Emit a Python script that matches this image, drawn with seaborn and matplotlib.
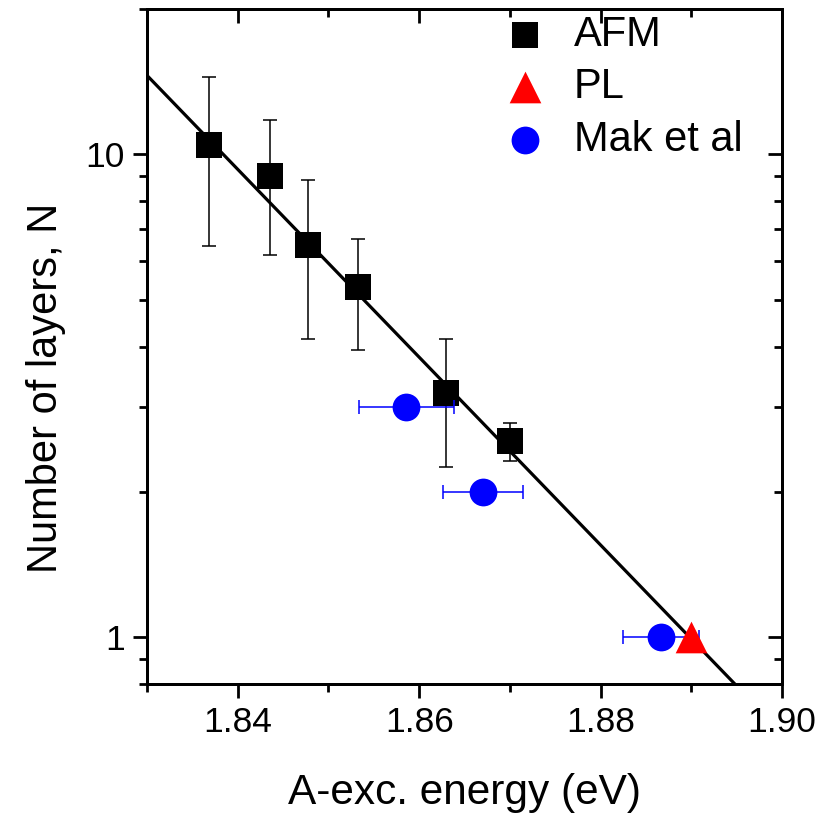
import numpy as np
import pandas as pd
import matplotlib
matplotlib.use("Agg")
import matplotlib.pyplot as plt
import seaborn as sns
from matplotlib.ticker import MultipleLocator, FormatStrFormatter, FixedLocator, FuncFormatter, NullFormatter

# ---- data ----
afm_energy = [1.8368, 1.8436, 1.8478, 1.8533, 1.8630, 1.8700]
afm_layers = [10.45, 9.0, 6.5, 5.3, 3.2, 2.55]
afm_yerr = [4.0, 2.8, 2.35, 1.37, 0.95, 0.23]

pl_energy = [1.8900]
pl_layers = [1.0]

mak_energy = [1.8586, 1.8670, 1.8867]
mak_layers = [3.0, 2.0, 1.0]
mak_xerr = [0.0052, 0.0044, 0.0042]

# fitted line: log10(N) = fit_a + fit_b * E
fit_a = 36.757
fit_b = -19.45
fit_range = [1.825, 1.905]

x_ticks_major = [1.84, 1.86, 1.88, 1.90]
y_ticks_major = [1, 10]
y_ticks_minor = [0.8, 0.9, 2, 3, 4, 5, 6, 7, 8, 9, 20]

sns.set_style("ticks")
plt.rcParams["font.family"] = ["Liberation Sans", "DejaVu Sans"]
plt.rcParams.update({
    "text.color": "black",
    "axes.labelcolor": "black",
    "xtick.color": "black",
    "ytick.color": "black",
    "axes.edgecolor": "black",
})

fig = plt.figure(figsize=(8.27, 8.16), dpi=100)
ax = fig.add_axes([147 / 827, 1 - 684 / 816, 635 / 827, 675 / 816])

fit_x = np.linspace(fit_range[0], fit_range[1], 50)
fit_df = pd.DataFrame({"E": fit_x, "N": 10 ** (fit_a + fit_b * fit_x)})
sns.lineplot(data=fit_df, x="E", y="N", ax=ax, color="black", lw=2.3, zorder=2)

ax.errorbar(afm_energy, afm_layers, yerr=afm_yerr, fmt="none", ecolor="black",
            elinewidth=1.1, capsize=4.7, capthick=1.1, zorder=3)
ax.errorbar(mak_energy, mak_layers, xerr=mak_xerr, fmt="none", ecolor="blue",
            elinewidth=1.1, capsize=4.7, capthick=1.1, zorder=5)

afm_df = pd.DataFrame({"E": afm_energy, "N": afm_layers})
pl_df = pd.DataFrame({"E": pl_energy, "N": pl_layers})
mak_df = pd.DataFrame({"E": mak_energy, "N": mak_layers})

sns.scatterplot(data=afm_df, x="E", y="N", ax=ax, marker="s", color="black", s=330,
                linewidth=0, label="AFM", zorder=4)
sns.scatterplot(data=pl_df, x="E", y="N", ax=ax, marker="^", color="red", s=520,
                linewidth=0, label="PL", zorder=7)
sns.scatterplot(data=mak_df, x="E", y="N", ax=ax, marker="o", color="blue", s=400,
                linewidth=0, label="Mak et al", zorder=6)

ax.set_yscale("log")
ax.set_xlim(1.83, 1.90)
ax.set_ylim(0.8, 20)

ax.xaxis.set_major_locator(FixedLocator(x_ticks_major))
ax.xaxis.set_minor_locator(MultipleLocator(0.01))
ax.xaxis.set_major_formatter(FormatStrFormatter("%.2f"))
ax.yaxis.set_major_locator(FixedLocator(y_ticks_major))
ax.yaxis.set_minor_locator(FixedLocator(y_ticks_minor))
ax.yaxis.set_major_formatter(FuncFormatter(lambda v, p: f"{v:g}"))
ax.yaxis.set_minor_formatter(NullFormatter())

for sp in ax.spines.values():
    sp.set_linewidth(2.0)
    sp.set_color("black")

ax.tick_params(axis="both", which="major", direction="out", length=10, width=2,
               labelsize=25.5, pad=6, colors="black")
ax.tick_params(axis="both", which="minor", direction="out", length=5.5, width=2)
ax.tick_params(top=False, right=False)

ax.set_xlabel("A-exc. energy (eV)", fontsize=30.5, labelpad=24, color="black")
ax.set_ylabel("Number of layers, N", fontsize=30, color="black")
ax.yaxis.set_label_coords(-0.128, 0.4385)

# inward ticks on top and right
axr = ax.twinx()
axr.set_yscale("log")
axr.set_ylim(ax.get_ylim())
axr.yaxis.set_major_locator(FixedLocator(y_ticks_major))
axr.yaxis.set_minor_locator(FixedLocator(y_ticks_minor))
axr.yaxis.set_major_formatter(NullFormatter())
axr.yaxis.set_minor_formatter(NullFormatter())
axr.tick_params(axis="y", which="major", direction="in", length=10, width=2)
axr.tick_params(axis="y", which="minor", direction="in", length=5.5, width=2)
axr.set_ylabel("")

axt = ax.twiny()
axt.set_xlim(ax.get_xlim())
axt.xaxis.set_major_locator(FixedLocator(x_ticks_major))
axt.xaxis.set_minor_locator(MultipleLocator(0.01))
axt.xaxis.set_major_formatter(NullFormatter())
axt.tick_params(axis="x", which="major", direction="in", length=10, width=2)
axt.tick_params(axis="x", which="minor", direction="in", length=5.5, width=2)
for a in (axr, axt):
    for sp in a.spines.values():
        sp.set_linewidth(2.0)
        sp.set_color("black")

leg = ax.legend(loc="upper left", bbox_to_anchor=(0.50, 1.038), frameon=False,
                fontsize=30, handletextpad=0.47, labelspacing=0.30,
                borderpad=0.25, handlelength=1.4)
for t in leg.get_texts():
    t.set_color("black")
leg.set_zorder(10)

fig.savefig("out.png", dpi=100)
